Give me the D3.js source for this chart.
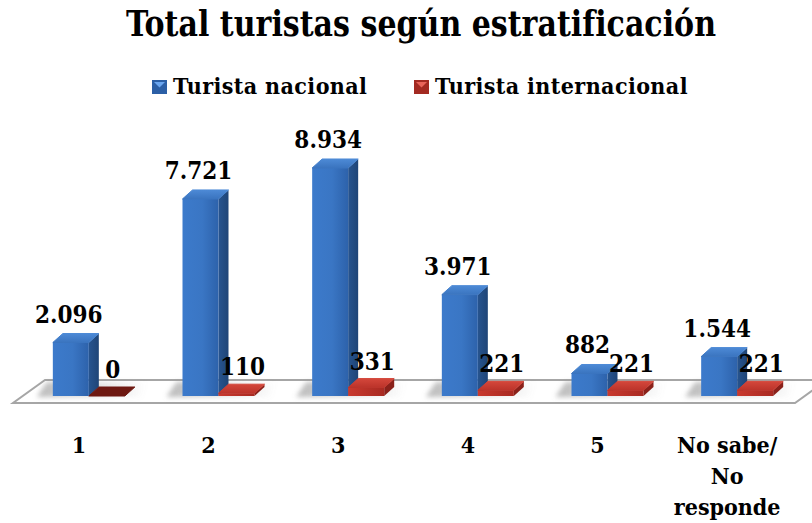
<!DOCTYPE html>
<html lang="es">
<head>
  <meta charset="UTF-8">
  <title>Total turistas según estratificación</title>
  <script src="https://d3js.org/d3.v7.min.js"></script>
  <style>
    body { background: #fff; margin: 0; }
    svg { display: block; }
    text { font-family: "DejaVu Serif", "Liberation Serif", serif; font-stretch: condensed; font-weight: bold; fill: #000; }
  </style>
</head>
<body>
  <svg width="812" height="523"></svg>

  <script>
    // data
    const categories = ["1", "2", "3", "4", "5", "No sabe/ No responde"];
    const seriesNames = ["Turista nacional", "Turista internacional"];
    const nacional = [2096, 7721, 8934, 3971, 882, 1544];
    const internacional = [0, 110, 331, 221, 221, 221];

    const svg = d3.select("svg");

    const es = d3.formatLocale({ decimal: ",", thousands: ".", grouping: [3], currency: ["", ""] });
    const fmt = es.format(",d");

    const baseY = 396;
    const x = d3.scaleBand().domain(categories).range([14, 792]);
    const y = d3.scaleLinear().domain([0, 9000]).range([baseY, baseY - 229.7]);

    const barW = 36, dx = 10, dy = -9;

    const defs = svg.append("defs");

    function grad(id, stops, x2 = "100%", y2 = "0%") {
      const g = defs.append("linearGradient").attr("id", id)
        .attr("x1", "0%").attr("y1", "0%").attr("x2", x2).attr("y2", y2);
      stops.forEach(s => g.append("stop").attr("offset", s[0]).attr("stop-color", s[1]).attr("stop-opacity", s[2] == null ? 1 : s[2]));
    }
    grad("blueFront", [["0%", "#3c7acb"], ["55%", "#3a76c4"], ["100%", "#2d62ab"]]);
    grad("blueSide", [["0%", "#27548f"], ["100%", "#1f4577"]]);
    grad("blueTop", [["0%", "#4d8ad6"], ["100%", "#3a74bf"]], "0%", "100%");
    grad("redFront", [["0%", "#c9392e"], ["100%", "#a82a22"]]);
    grad("redTop", [["0%", "#d4473b"], ["100%", "#bb332a"]], "0%", "100%");
    grad("shade", [["0%", "#8c8c8c", 0.7], ["100%", "#8c8c8c", 0]]);

    const blur = defs.append("filter").attr("id", "soft").attr("x", "-50%").attr("y", "-50%").attr("width", "200%").attr("height", "200%");
    blur.append("feGaussianBlur").attr("stdDeviation", 2.5);

    // title
    svg.append("text")
      .attr("x", 421).attr("y", 36)
      .attr("text-anchor", "middle")
      .attr("textLength", 590)
      .attr("lengthAdjust", "spacingAndGlyphs")
      .style("font-size", "35px")
      .text("Total turistas según estratificación");

    // legend
    const legend = svg.append("g");
    const legendX = [152, 414];
    const legendFill = [["#6aa6f0", "#2b5fa6"], ["#e8645a", "#a32a22"]];
    seriesNames.forEach((name, i) => {
      legend.append("rect")
        .attr("x", legendX[i]).attr("y", 80)
        .attr("width", 15).attr("height", 14)
        .attr("fill", legendFill[i][1]);
      legend.append("path")
        .attr("d", `M${legendX[i] + 2},82 L${legendX[i] + 13},82 L${legendX[i] + 7.5},87.5 Z`)
        .attr("fill", legendFill[i][0]);
      legend.append("text")
        .attr("x", legendX[i] + 21).attr("y", 94)
        .style("font-size", "23px")
        .style("letter-spacing", "0.4px")
        .text(name);
    });

    // floor
    const fl = { x0: 13, x1: 795, yF: 403, ddx: 32, ddy: -23 };
    svg.append("path")
      .attr("d", `M${fl.x0},${fl.yF} L${fl.x1},${fl.yF} L${fl.x1 + fl.ddx},${fl.yF + fl.ddy} L${fl.x0 + fl.ddx},${fl.yF + fl.ddy} Z`)
      .attr("fill", "#fff")
      .attr("stroke", "#a6a6a6")
      .attr("stroke-width", 2);

    const groups = categories.map((c, i) => ({
      c, cx: x(c) + x.bandwidth() / 2, n: nacional[i], r: internacional[i]
    }));

    // shadows on the floor
    const shadow = svg.append("g").attr("filter", "url(#soft)");
    groups.forEach(g => {
      shadow.append("path")
        .attr("d", `M${g.cx - 42},${baseY + 1} L${g.cx + 62},${baseY + 1} L${g.cx + 68},${baseY - 14} L${g.cx - 32},${baseY - 14} Z`)
        .attr("fill", "url(#shade)")
        .attr("opacity", 0.85);
    });

    function drawBar(parent, x0, v, front, side, top) {
      const yt = y(v);
      const gb = parent.append("g");
      if (v > 0) {
        gb.append("path")
          .attr("d", `M${x0 + barW},${baseY} L${x0 + barW + dx},${baseY + dy} L${x0 + barW + dx},${yt + dy} L${x0 + barW},${yt} Z`)
          .attr("fill", side);
        gb.append("path")
          .attr("d", `M${x0},${baseY} L${x0 + barW},${baseY} L${x0 + barW},${yt} L${x0},${yt} Z`)
          .attr("fill", front);
      }
      gb.append("path")
        .attr("d", `M${x0},${yt} L${x0 + barW},${yt} L${x0 + barW + dx},${yt + dy} L${x0 + dx},${yt + dy} Z`)
        .attr("fill", top)
        .attr("stroke", top)
        .attr("stroke-width", 1)
        .attr("stroke-linejoin", "round");
    }

    const bars = svg.append("g");
    groups.forEach(g => {
      drawBar(bars, g.cx - 26, g.n, "url(#blueFront)", "url(#blueSide)", "url(#blueTop)");
      drawBar(bars, g.cx + 10, g.r, "url(#redFront)", "#8a211a", g.r > 0 ? "url(#redTop)" : "#6e1912");
    });

    // value labels
    const labels = svg.append("g").style("font-size", "24px").attr("text-anchor", "middle");
    groups.forEach(g => {
      labels.append("text")
        .attr("x", g.cx - 10).attr("y", y(g.n) - 20)
        .text(fmt(g.n));
      labels.append("text")
        .attr("x", g.cx + 34).attr("y", y(g.r) - 18)
        .text(fmt(g.r));
    });

    // category labels
    const xAxis = svg.append("g").style("font-size", "23px").attr("text-anchor", "middle");
    groups.forEach(g => {
      const lines = g.c === "No sabe/ No responde" ? ["No sabe/", "No", "responde"] : [g.c];
      const t = xAxis.append("text").attr("x", g.cx).attr("y", 453);
      lines.forEach((l, k) => t.append("tspan").attr("x", g.cx).attr("dy", k === 0 ? 0 : 31).text(l));
    });
  </script>
</body>
</html>
